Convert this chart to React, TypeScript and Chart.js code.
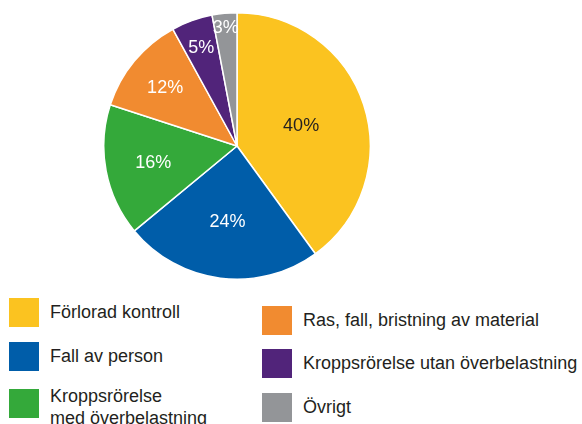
import React, { useEffect, useRef } from "react";
import { Chart, registerables } from "chart.js";

Chart.register(...registerables);

const categories = [
  "Förlorad kontroll",
  "Fall av person",
  "Kroppsrörelse med överbelastning",
  "Ras, fall, bristning av material",
  "Kroppsrörelse utan överbelastning",
  "Övrigt",
];
const values = [40, 24, 16, 12, 5, 3];
const valueLabels = ["40%", "24%", "16%", "12%", "5%", "3%"];

const colors = ["#FBC320", "#005DA9", "#34A93A", "#F18B30", "#51247A", "#939598"];
const labelColors = ["#231F20", "#FFFFFF", "#FFFFFF", "#FFFFFF", "#FFFFFF", "#FFFFFF"];
const labelRadiusFrac = [0.506, 0.57, 0.64, 0.7, 0.79, 0.9];

const legendItems = [
  { idx: 0, left: 9, top: 298, textLeft: 50, lines: ["Förlorad kontroll"] },
  { idx: 1, left: 9, top: 342, textLeft: 50, lines: ["Fall av person"] },
  { idx: 2, left: 9, top: 389, textLeft: 50, lines: ["Kroppsrörelse", "med överbelastning"] },
  { idx: 3, left: 262, top: 306, textLeft: 303, lines: ["Ras, fall, bristning av material"] },
  { idx: 4, left: 262, top: 349, textLeft: 303, lines: ["Kroppsrörelse utan överbelastning"] },
  { idx: 5, left: 262, top: 393, textLeft: 303, lines: ["Övrigt"] },
];

const labelPlugin = {
  id: "sliceLabels",
  afterDatasetsDraw(chart: any) {
    const ctx = chart.ctx;
    const meta = chart.getDatasetMeta(0);
    ctx.save();
    ctx.font = "18px 'Liberation Sans', Arial, sans-serif";
    ctx.textAlign = "center";
    ctx.textBaseline = "middle";
    meta.data.forEach((arc: any, i: number) => {
      const p = arc.getProps(["x", "y", "startAngle", "endAngle", "outerRadius"], true);
      const mid = (p.startAngle + p.endAngle) / 2;
      const r = p.outerRadius * labelRadiusFrac[i];
      ctx.fillStyle = labelColors[i];
      ctx.fillText(valueLabels[i], p.x + Math.cos(mid) * r, p.y + Math.sin(mid) * r + 1);
    });
    ctx.restore();
  },
};

export default function App() {
  const ref = useRef<HTMLCanvasElement | null>(null);
  useEffect(() => {
    if (!ref.current) return;
    const chart = new Chart(ref.current, {
      type: "pie",
      data: {
        labels: categories,
        datasets: [
          {
            data: values,
            backgroundColor: colors,
            borderColor: "#FFFFFF",
            borderWidth: 1.5,
          },
        ],
      },
      options: {
        animation: false,
        responsive: false,
        maintainAspectRatio: false,
        layout: { padding: 0 },
        plugins: {
          legend: { display: false },
          tooltip: { enabled: false },
        },
      },
      plugins: [labelPlugin],
    });
    return () => chart.destroy();
  }, []);

  return (
    <div
      style={{
        position: "fixed",
        left: 0,
        top: 0,
        width: 582,
        height: 424,
        background: "#FFFFFF",
        overflow: "hidden",
        fontFamily: "'Liberation Sans', Arial, sans-serif",
      }}
    >
      <div style={{ position: "absolute", left: 103, top: 12, width: 268, height: 268 }}>
        <canvas ref={ref} width={268} height={268} style={{ width: 268, height: 268 }} />
      </div>
      {legendItems.map((it) => (
        <React.Fragment key={it.idx}>
          <div
            style={{
              position: "absolute",
              left: it.left,
              top: it.top,
              width: 30,
              height: 29,
              background: colors[it.idx],
            }}
          />
          <div
            style={{
              position: "absolute",
              left: it.textLeft,
              top: it.top + (it.lines.length > 1 ? -4 : 3),
              fontSize: 18,
              lineHeight: "22px",
              color: "#231F20",
              whiteSpace: "nowrap",
            }}
          >
            {it.lines.map((l, k) => (
              <div key={k}>{l}</div>
            ))}
          </div>
        </React.Fragment>
      ))}
    </div>
  );
}
